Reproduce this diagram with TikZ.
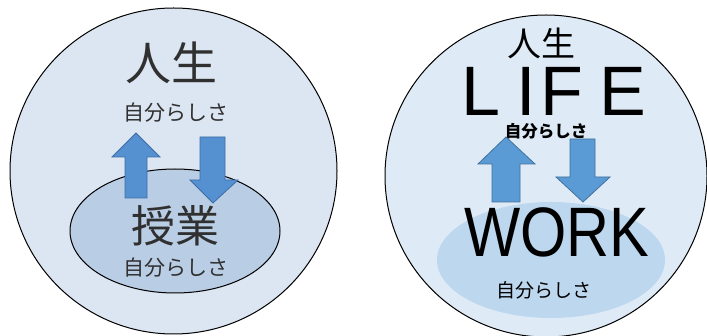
\documentclass[tikz,border=0pt]{standalone}
\usepackage{fontspec}
\setmainfont{Noto Sans CJK JP}
\newfontfamily\lat{Liberation Sans}
\definecolor{outerfill}{HTML}{DCE6F2}
\definecolor{innerfill}{HTML}{B9CDE5}
\definecolor{outerfillR}{HTML}{DEEBF7}
\definecolor{innerfillR}{HTML}{BDD7EE}
\definecolor{arrowfill}{HTML}{5590D0}
\definecolor{arrowdraw}{HTML}{3D6DA6}
\definecolor{arrowfillR}{HTML}{5B9BD5}
\definecolor{arrowdrawR}{HTML}{41719C}
\definecolor{graytext}{HTML}{303030}
\begin{document}
\begin{tikzpicture}[x=1pt,y=-1pt,
  bigcircle/.style={draw=black, line width=1pt},
  arrowshape/.style={draw=arrowdraw, line width=0.8pt, fill=arrowfill, line join=miter},
  arrowshapeR/.style={draw=arrowdrawR, line width=0.8pt, fill=arrowfillR, line join=miter},
  lbl/.style={inner sep=0pt, anchor=center}]
\useasboundingbox (0,0) rectangle (707,336);
\fill[white] (0,0) rectangle (707,336);
% left
\begin{scope}
\clip (0,0) rectangle (707,336);
\draw[bigcircle, fill=outerfill] (173.5,171) ellipse [x radius=163.5, y radius=163];
\draw[black, line width=1pt, fill=innerfill] (175,231) ellipse [x radius=105, y radius=62];
\end{scope}
\node[lbl, text=graytext, font=\fontsize{46}{46}\selectfont] (lifeL) at (171,63) {人生};
\node[lbl, text=graytext, font=\fontsize{21}{21}\selectfont] (selfL1) at (176,113) {自分らしさ};
\draw[arrowshape] (125,198) -- (125,157) -- (112,157) -- (136,133) -- (160,157) -- (147,157) -- (147,198) -- cycle;
\draw[arrowshape] (200,137) -- (225,137) -- (225,180) -- (238,180) -- (213,203) -- (190,180) -- (200,180) -- cycle;
\node[lbl, text=graytext, font=\fontsize{44}{44}\selectfont] (workL) at (175,226) {授業};
\node[lbl, text=graytext, font=\fontsize{21}{21}\selectfont] (selfL2) at (176,268) {自分らしさ};
% right
\begin{scope}
\clip (0,0) rectangle (707,336);
\draw[bigcircle, fill=outerfillR] (546,176) circle [radius=161];
\fill[innerfillR] (551,260) ellipse [x radius=114, y radius=58];
\end{scope}
\node[lbl, font=\fontsize{34}{34}\selectfont] (lifeR) at (541,43) {人生};
\node[lbl, font=\lat\fontsize{70}{70}\selectfont] (lifeE) at (554,91) {L\hspace{0.22em}I\hspace{0.07em}F\hspace{0.23em}E};
\node[lbl, font=\fontsize{16.5}{16.5}\selectfont\bfseries] (selfR1) at (546,131) {自分らしさ};
\draw[arrowshapeR] (492,202) -- (492,164) -- (478,164) -- (506,137) -- (535,164) -- (520,164) -- (520,202) -- cycle;
\draw[arrowshapeR] (570,139) -- (595,139) -- (595,177) -- (610,177) -- (583,202) -- (556,177) -- (570,177) -- cycle;
\node[lbl, font=\lat\fontsize{70}{70}\selectfont] (workR) at (557,232) {\scalebox{0.85}[1]{WORK}};
\node[lbl, font=\fontsize{19}{19}\selectfont] (selfR2) at (544,290) {自分らしさ};
\end{tikzpicture}
\end{document}
